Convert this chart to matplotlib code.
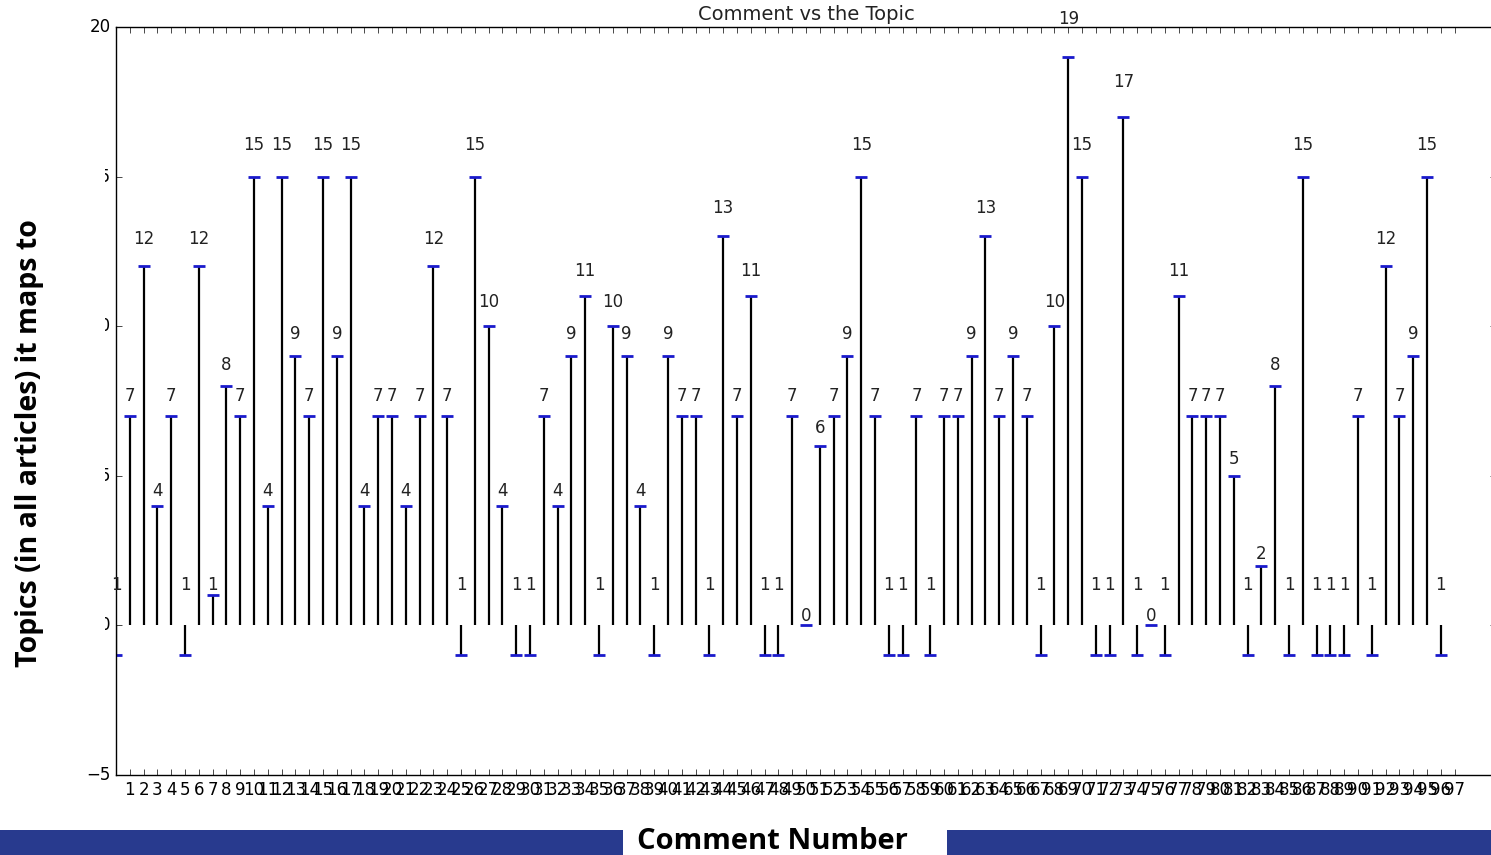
import matplotlib
matplotlib.use('Agg')
import matplotlib.pyplot as plt
from matplotlib.patches import Rectangle

# topic index per comment (-1 = no topic, labelled with its absolute value)
topics = [-1, 7, 12, 4, 7, -1, 12, 1, 8, 7,
          15, 4, 15, 9, 7, 15, 9, 15, 4, 7,
          7, 4, 7, 12, 7, -1, 15, 10, 4, -1,
          -1, 7, 4, 9, 11, -1, 10, 9, 4, -1,
          9, 7, 7, -1, 13, 7, 11, -1, -1, 7,
          0, 6, 7, 9, 15, 7, -1, -1, 7, -1,
          7, 7, 9, 13, 7, 9, 7, -1, 10, 19,
          15, -1, -1, 17, -1, 0, -1, 11, 7, 7,
          7, 5, -1, 2, 8, -1, 15, -1, -1, -1,
          7, -1, 12, 7, 9, 15, -1]
comments = list(range(len(topics)))
tick_labels = list(range(1, len(topics) + 1))
y_ticks = [-5, 0, 5, 10, 15, 20]

plt.style.use('classic')
fig = plt.figure(figsize=(14.91, 8.55), dpi=100, facecolor='white')
ax = fig.add_axes([116 / 1491, 80 / 855, 1380 / 1491, 748 / 855])

ax.vlines(comments, 0, topics, color='black', linewidth=1.6)
ax.plot(comments, topics, linestyle='none', marker='_', color='#1a1acc',
        markersize=8, markeredgewidth=2)

for x, v in zip(comments, topics):
    ax.text(x, 1.05 * abs(v), str(abs(v)), ha='center', va='bottom',
            fontsize=12, color='#222222', clip_on=False)

ax.set_xlim(0, 100)
ax.set_ylim(-5, 20)
ax.set_xticks(tick_labels)
ax.set_xticklabels([str(t) for t in tick_labels], fontsize=12)
ax.set_yticks(y_ticks)
ax.tick_params(axis='y', labelsize=12)
ax.set_title('Comment vs the Topic', fontsize=14, color='#222222')
ax.set_xlabel('Comment Number', fontsize=12)

# slide overlay: white cover over the old axis labels
fig.patches.append(Rectangle((0, 95 / 855), 105 / 1491, 715 / 855,
                             transform=fig.transFigure, facecolor='white',
                             edgecolor='none', zorder=5))
fig.patches.append(Rectangle((0, 25 / 855), 1, 26 / 855,
                             transform=fig.transFigure, facecolor='white',
                             edgecolor='none', zorder=5))

bar_color = '#283a8e'
fig.patches.append(Rectangle((0, 0), 623 / 1491, 25 / 855,
                             transform=fig.transFigure, facecolor=bar_color,
                             edgecolor='none', zorder=6))
fig.patches.append(Rectangle((947 / 1491, 0), 1 - 947 / 1491, 25 / 855,
                             transform=fig.transFigure, facecolor=bar_color,
                             edgecolor='none', zorder=6))

fig.text(772 / 1491, 6 / 855, 'Comment Number', ha='center', va='baseline',
         fontsize=21, fontweight='bold', family='Open Sans', zorder=7)
fig.text(30 / 1491, 1 - 443 / 855, 'Topics (in all articles) it maps to',
         ha='center', va='center', rotation=90, fontsize=20.5,
         fontweight='bold', family='Open Sans', zorder=7)

fig.savefig('out.png', dpi=100, facecolor='white')
